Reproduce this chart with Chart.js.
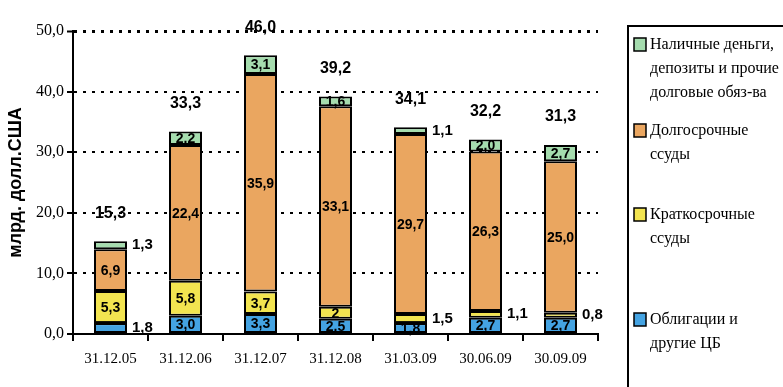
<!DOCTYPE html>
<html>
<head>
<meta charset="utf-8">
<script src="https://cdn.jsdelivr.net/npm/chart.js@4/dist/chart.umd.min.js"></script>
<style>
  html, body { margin: 0; padding: 0; background: #fff; }
  #wrap { width: 783px; height: 387px; position: relative; }
</style>
</head>
<body>
<div id="wrap"><canvas id="myChart" width="783" height="387"></canvas></div>
<script>
const dates = ['31.12.05', '31.12.06', '31.12.07', '31.12.08', '31.03.09', '30.06.09', '30.09.09'];
const bonds = [1.8, 3.0, 3.3, 2.5, 1.8, 2.7, 2.7];        // Облигации и другие ЦБ
const shortLoans = [5.3, 5.8, 3.7, 2.0, 1.5, 1.1, 0.8];   // Краткосрочные ссуды
const longLoans = [6.9, 22.4, 35.9, 33.1, 29.7, 26.3, 25.0]; // Долгосрочные ссуды
const cash = [1.3, 2.2, 3.1, 1.6, 1.1, 2.0, 2.7];         // Наличные деньги, депозиты...
const totals = [15.3, 33.3, 46.0, 39.2, 34.1, 32.2, 31.3];
const yTicks = [0, 10, 20, 30, 40, 50];

// labels that sit to the right of the bar instead of inside it
const outside = {
  bonds: [0],
  shortLoans: [4, 5, 6],
  cash: [0, 4]
};

const fmt = v => v.toFixed(1).replace('.', ',');
const ctx = document.getElementById('myChart').getContext('2d');

const valueLabels = {
  id: 'valueLabels',
  afterDatasetsDraw(chart) {
    const c = chart.ctx;
    c.save();
    c.fillStyle = '#000';
    c.textBaseline = 'middle';
    chart.data.datasets.forEach((ds, di) => {
      const meta = chart.getDatasetMeta(di);
      meta.data.forEach((bar, i) => {
        const v = ds.data[i];
        const txt = ds.key === 'shortLoans' && i === 3 ? '2' : fmt(v);
        const yc = (bar.y + bar.base) / 2;
        if ((outside[ds.key] || []).includes(i)) {
          c.font = 'bold 15px "Liberation Sans Narrow", "Liberation Sans", Arial';
          c.textAlign = 'left';
          c.fillText(txt, bar.x + bar.width / 2 + 5, yc);
        } else {
          c.font = 'bold 14px "Liberation Sans Narrow", "Liberation Sans", Arial';
          c.textAlign = 'center';
          c.fillText(txt, bar.x, yc + 1);
        }
      });
    });
    // totals above each column
    const top = chart.getDatasetMeta(chart.data.datasets.length - 1);
    c.font = 'bold 16px "Liberation Sans Narrow", "Liberation Sans", Arial';
    c.textAlign = 'center';
    top.data.forEach((bar, i) => {
      c.fillText(fmt(totals[i]), bar.x, bar.y - 28);
    });
    c.restore();
  }
};

const legendBox = {
  id: 'legendBox',
  afterDraw(chart) {
    const c = chart.ctx;
    c.save();
    c.strokeStyle = '#000';
    c.lineWidth = 2;
    c.strokeRect(628, 26, 200, 400);
    const items = [
      { ds: 3, y: 45, lines: ['Наличные деньги,', 'депозиты и прочие', 'долговые обяз-ва'] },
      { ds: 2, y: 131, lines: ['Долгосрочные', 'ссуды'] },
      { ds: 1, y: 215, lines: ['Краткосрочные', 'ссуды'] },
      { ds: 0, y: 320, lines: ['Облигации и', 'другие ЦБ'] }
    ];
    c.font = '16px "Liberation Serif", "Times New Roman", serif';
    c.textBaseline = 'middle';
    c.textAlign = 'left';
    items.forEach(it => {
      const ds = chart.data.datasets[it.ds];
      c.fillStyle = ds.backgroundColor;
      c.fillRect(634, it.y - 7, 12, 13);
      c.lineWidth = 1.5;
      c.strokeRect(634, it.y - 7, 12, 13);
      c.fillStyle = '#000';
      it.lines.forEach((t, k) => c.fillText(t, 650, it.y + k * 24));
    });
    c.restore();
  }
};

const barStyle = { borderColor: '#000', borderWidth: 2, borderSkipped: false, barPercentage: 0.44, categoryPercentage: 1 };

const myChart = new Chart(ctx, {
  type: 'bar',
  data: {
    labels: dates,
    datasets: [
      { key: 'bonds', label: 'Облигации и другие ЦБ', data: bonds, backgroundColor: '#44a3e2', ...barStyle },
      { key: 'shortLoans', label: 'Краткосрочные ссуды', data: shortLoans, backgroundColor: '#f2e450', ...barStyle },
      { key: 'longLoans', label: 'Долгосрочные ссуды', data: longLoans, backgroundColor: '#eaa660', ...barStyle },
      { key: 'cash', label: 'Наличные деньги, депозиты и прочие долговые обяз-ва', data: cash, backgroundColor: '#a5dcae', ...barStyle }
    ]
  },
  options: {
    responsive: false,
    animation: false,
    layout: { padding: { left: 4, right: 185, top: 31, bottom: 10 } },
    plugins: { legend: { display: false }, tooltip: { enabled: false } },
    scales: {
      x: {
        stacked: true,
        grid: { offset: true, drawOnChartArea: false, color: '#000', lineWidth: 2, tickLength: 7 },
        border: { color: '#000', width: 2 },
        ticks: { color: '#000', padding: 9, font: { family: '"Liberation Serif", "Times New Roman", serif', size: 15 } }
      },
      y: {
        stacked: true,
        min: 0,
        max: 50,
        afterBuildTicks: s => { s.ticks = yTicks.map(v => ({ value: v })); },
        afterFit: s => { s.width = 69; },
        grid: {
          color: '#000',
          lineWidth: c => (c.tick && c.tick.value === 50 ? 3 : 2),
          tickBorderDash: [], tickLength: 6, tickColor: '#000', tickWidth: 2
        },
        border: { color: '#000', width: 2, dash: [3, 6] },
        ticks: {
          color: '#000', padding: 3,
          font: { family: '"Liberation Serif", "Times New Roman", serif', size: 16 },
          callback: v => fmt(v)
        },
        title: {
          display: true, text: 'млрд. долл.США', color: '#000', padding: 1,
          font: { family: '"Liberation Sans", Arial, sans-serif', size: 18, weight: 'bold' }
        }
      }
    }
  },
  plugins: [valueLabels, legendBox]
});
</script>
</body>
</html>
